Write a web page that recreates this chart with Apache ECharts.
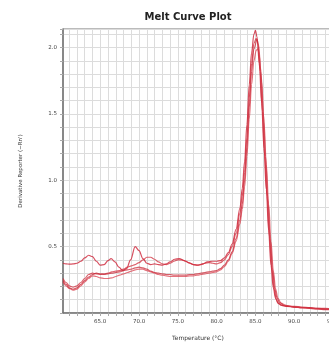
<!DOCTYPE html>
<html>
<head>
<meta charset="utf-8">
<script src="https://cdn.jsdelivr.net/npm/echarts@6/dist/echarts.min.js"></script>
<style>html,body{margin:0;padding:0;background:#fff;}#c{width:329px;height:345px;}</style>
</head>
<body>
<div id="c"></div>
<script>
const titleText = 'Melt Curve Plot';
const xName = 'Temperature (°C)';
const yName = "Derivative Reporter (\u2212Rn')";

const wellA = [[60.2,.375],[60.6,.37],[61,.368],[61.5,.37],[62,.375],[62.5,.39],[63,.415],[63.5,.435],[64,.425],[64.5,.39],[65,.36],[65.5,.365],[66,.395],[66.4,.41],[66.9,.385],[67.4,.345],[67.9,.32],[68.4,.335],[68.9,.40],[69.5,.50],[70,.47],[70.5,.41],[71,.375],[71.5,.365],[72,.37],[72.5,.365],[73,.36],[73.5,.37],[74,.385],[74.6,.405],[75.2,.41],[75.8,.395],[76.4,.38],[77,.365],[77.6,.36],[78.2,.37],[78.8,.385],[79.4,.39],[80,.39],[80.5,.395],[81,.415],[81.5,.455],[82,.52],[82.5,.63],[83,.79],[83.3,.94],[83.6,1.14],[83.9,1.42],[84.2,1.72],[84.5,1.96],[84.8,2.10],[85.0,2.13],[85.2,2.08],[85.5,1.88],[85.8,1.58],[86.1,1.24],[86.4,0.93],[86.7,0.62],[87.0,0.36],[87.3,0.19],[87.6,0.11],[87.9,0.075],[88.3,0.06],[89,0.05],[90,0.045],[91,0.04],[92,0.035],[93,0.03],[94,0.025],[95,0.025],[96,0.025]];
const wellB = [[60.2,.26],[60.6,.23],[61,.205],[61.5,.195],[62,.205],[62.5,.23],[63,.26],[63.5,.29],[64,.30],[64.5,.295],[65,.29],[65.5,.295],[66,.30],[66.5,.31],[67,.315],[67.5,.32],[68,.33],[68.5,.345],[69,.355],[69.5,.365],[70,.38],[70.5,.40],[71,.42],[71.5,.42],[72,.405],[72.5,.385],[73,.37],[73.5,.365],[74,.375],[74.5,.39],[75,.40],[75.5,.40],[76,.39],[76.5,.375],[77,.365],[77.5,.36],[78,.365],[78.5,.375],[79,.38],[79.5,.375],[80,.37],[80.5,.38],[81,.40],[81.5,.44],[82,.50],[82.5,.60],[83,.75],[83.3,.88],[83.6,1.06],[83.9,1.32],[84.2,1.62],[84.5,1.88],[84.8,2.03],[85.1,2.07],[85.3,2.03],[85.6,1.82],[85.9,1.52],[86.2,1.18],[86.5,0.88],[86.8,0.58],[87.1,0.34],[87.4,0.18],[87.7,0.10],[88.0,0.07],[88.5,0.055],[89,0.05],[90,0.05],[91,0.045],[92,0.04],[93,0.035],[94,0.035],[95,0.03],[96,0.03]];
const wellC = [[60.2,.245],[60.6,.215],[61,.19],[61.5,.18],[62,.19],[62.5,.215],[63,.245],[63.5,.27],[64,.29],[64.5,.30],[65,.295],[65.5,.29],[66,.295],[66.5,.30],[67,.305],[67.5,.31],[68,.32],[68.5,.325],[69,.33],[69.5,.34],[70,.345],[70.5,.34],[71,.33],[71.5,.315],[72,.305],[72.5,.30],[73,.295],[73.5,.29],[74,.29],[74.5,.285],[75,.285],[75.5,.285],[76,.285],[76.5,.29],[77,.29],[77.5,.295],[78,.30],[78.5,.305],[79,.31],[79.5,.315],[80,.32],[80.5,.335],[81,.36],[81.5,.40],[82,.46],[82.5,.56],[83,.70],[83.3,.82],[83.6,1.00],[83.9,1.25],[84.2,1.55],[84.5,1.82],[84.8,1.99],[85.2,2.06],[85.4,2.02],[85.7,1.82],[86.0,1.52],[86.3,1.18],[86.6,0.86],[86.9,0.56],[87.2,0.33],[87.5,0.18],[87.8,0.11],[88.1,0.08],[88.6,0.06],[89,0.055],[90,0.045],[91,0.04],[92,0.04],[93,0.035],[94,0.03],[95,0.03],[96,0.03]];
const wellD = [[60.2,.235],[60.6,.205],[61,.185],[61.5,.172],[62,.18],[62.5,.205],[63,.235],[63.5,.26],[64,.28],[64.5,.275],[65,.265],[65.5,.26],[66,.26],[66.5,.265],[67,.275],[67.5,.285],[68,.295],[68.5,.305],[69,.315],[69.5,.325],[70,.33],[70.5,.33],[71,.32],[71.5,.31],[72,.30],[72.5,.29],[73,.285],[73.5,.28],[74,.275],[74.5,.275],[75,.275],[75.5,.275],[76,.275],[76.5,.28],[77,.28],[77.5,.285],[78,.29],[78.5,.295],[79,.30],[79.5,.305],[80,.31],[80.5,.325],[81,.35],[81.5,.39],[82,.45],[82.5,.54],[83,.67],[83.3,.78],[83.6,.95],[83.9,1.18],[84.2,1.46],[84.5,1.72],[84.8,1.90],[85.1,1.98],[85.3,1.99],[85.5,1.94],[85.8,1.74],[86.1,1.44],[86.4,1.12],[86.7,0.82],[87.0,0.54],[87.3,0.32],[87.6,0.18],[87.9,0.11],[88.3,0.075],[88.8,0.06],[89.5,0.05],[90,0.045],[91,0.04],[92,0.035],[93,0.03],[94,0.03],[95,0.025],[96,0.025]];

const wells = [wellA, wellB, wellC, wellD];
const lineColors = ['rgba(205,35,55,0.8)','rgba(210,45,60,0.75)','rgba(200,40,55,0.75)','rgba(215,55,70,0.7)'];

const chart = echarts.init(document.getElementById('c'), null, {renderer:'canvas'});
const font = 'DejaVu Sans';
const isMult = (v, m) => Math.abs(v / m - Math.round(v / m)) < 1e-6;
const pxPerDeg = 7.76;
const plotLeft = 63, plotTop = 29, plotH = 284;
const xMin = 60.2, xMax = 96, gridStart = 61;

chart.setOption({
  animation: false,
  backgroundColor: '#fff',
  title: {
    text: titleText, left: 183, top: 7, textAlign: 'center',
    textStyle: {fontFamily: font, fontWeight: 'bold', fontSize: 10, color: '#222'}
  },
  graphic: [{
    type: 'text', x: 198, y: 338,
    style: {text: xName, font: '6px "DejaVu Sans"', fill: '#333', textAlign: 'center', textVerticalAlign: 'middle'}
  }],
  grid: [
    {left: plotLeft + (gridStart - xMin) * pxPerDeg, top: plotTop, height: plotH, width: (xMax - gridStart) * pxPerDeg,
     show: false, containLabel: false, outerBoundsMode: 'none'},
    {left: plotLeft, top: plotTop, height: plotH, width: (xMax - xMin) * pxPerDeg,
     show: true, borderColor: '#777', borderWidth: 1, containLabel: false, outerBoundsMode: 'none'}
  ],
  xAxis: [{
    gridIndex: 0, type: 'value', min: gridStart, max: xMax, interval: 1,
    axisLine: {show: false},
    axisTick: {show: true, length: 3, lineStyle: {color: '#aaa'}},
    axisLabel: {fontFamily: font, fontSize: 5.5, color: '#444', margin: 6, hideOverlap: false,
      formatter: v => isMult(v, 5) ? v.toFixed(1) : ''},
    splitLine: {show: true, lineStyle: {color: '#dcdcdc', width: 1}}
  }, {
    gridIndex: 1, type: 'value', min: xMin, max: xMax,
    axisLine: {show: true, onZero: false, lineStyle: {color: '#777', width: 1.5}},
    axisTick: {show: false}, axisLabel: {show: false}, splitLine: {show: false}
  }],
  yAxis: [{
    gridIndex: 0, type: 'value', min: 0, max: 2.14, show: false, splitLine: {show: false}
  }, {
    gridIndex: 1, type: 'value', min: 0, max: 2.14, interval: 0.1,
    name: yName, nameLocation: 'middle', nameGap: 39, nameRotate: 90,
    nameTextStyle: {fontFamily: font, fontSize: 5.5, color: '#333'},
    axisLine: {show: true, lineStyle: {color: '#777', width: 1.5}},
    axisTick: {show: true, length: 3, lineStyle: {color: '#aaa'}},
    axisLabel: {fontFamily: font, fontSize: 5.5, color: '#444', margin: 6,
      formatter: v => (v > 0.01 && isMult(v, 0.5)) ? v.toFixed(1) : ''},
    splitLine: {show: true, lineStyle: {color: '#dcdcdc', width: 1}}
  }],
  series: wells.map((w, i) => ({
    type: 'line', xAxisIndex: 1, yAxisIndex: 1, data: w, showSymbol: false,
    smooth: 0.35, smoothMonotone: 'x',
    lineStyle: {color: lineColors[i], width: 1.2}, z: 3
  }))
});
</script>
</body>
</html>
